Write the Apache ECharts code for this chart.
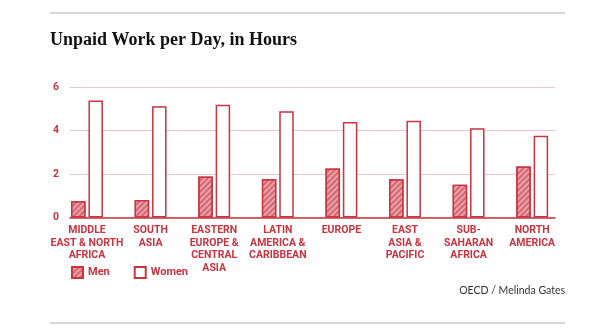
<!DOCTYPE html>
<html>
<head>
<meta charset="utf-8">
<script src="https://cdn.jsdelivr.net/npm/echarts@6/dist/echarts.min.js"></script>
<style>
html,body{margin:0;padding:0;background:#fff;}
#c{width:600px;height:336px;}
</style>
</head>
<body>
<div id="c"></div>
<script>
const categories = ['MIDDLE\nEAST & NORTH\nAFRICA','SOUTH\nASIA','EASTERN\nEUROPE &\nCENTRAL\nASIA','LATIN\nAMERICA &\nCARIBBEAN','EUROPE','EAST\nASIA &\nPACIFIC','SUB-\nSAHARAN\nAFRICA','NORTH\nAMERICA'];
const men =   [0.75, 0.81, 1.89, 1.76, 2.25, 1.76, 1.51, 2.34];
const women = [5.38, 5.12, 5.18, 4.89, 4.39, 4.45, 4.10, 3.76];
const yTicks = [0, 2, 4, 6];

const RED = '#c9343f';
const chart = echarts.init(document.getElementById('c'));
const gTop = 87, gBottom = 118.5;
chart.setOption({
  animation: false,
  backgroundColor: '#fff',
  title: {
    text: 'Unpaid Work per Day, in Hours',
    left: 50, top: 31, padding: 0,
    textStyle: {fontFamily: 'Liberation Serif', fontWeight: 'bold', fontSize: 18, color: '#111'}
  },
  graphic: [
    {type: 'line', shape: {x1: 50, y1: 13, x2: 565, y2: 13}, style: {stroke: '#c8c8c8', lineWidth: 1.5}},
    {type: 'line', shape: {x1: 50, y1: 323, x2: 565, y2: 323}, style: {stroke: '#c8c8c8', lineWidth: 1.5}},
    {type: 'text', right: 35, top: 285, style: {text: 'OECD / Melinda Gates', font: '10.5px Lato', fill: '#333'}}
  ],
  legend: {
    left: 66, top: 261,
    itemWidth: 11, itemHeight: 11, itemGap: 24,
    icon: 'rect',
    textStyle: {color: RED, fontFamily: 'Roboto', fontWeight: 'bold', fontSize: 11, padding: [1,0,0,0]},
    data: ['Men', 'Women']
  },
  grid: [
    {left: 55.2, right: 36, top: gTop, bottom: gBottom},
    {left: 70, right: 45, top: gTop, bottom: gBottom}
  ],
  xAxis: [
    {type: 'category', gridIndex: 0, data: categories,
     axisLine: {show: false}, axisTick: {show: false},
     axisLabel: {interval: 0, margin: 7, color: RED, fontFamily: 'Roboto', fontWeight: 'bold', fontSize: 10.5, lineHeight: 12.5, align: 'center', verticalAlign: 'top'}},
    {type: 'value', gridIndex: 1, min: 0, max: 1,
     axisLine: {show: true, onZero: false, lineStyle: {color: RED, width: 1.5}},
     axisTick: {show: false}, axisLabel: {show: false}, splitLine: {show: false}}
  ],
  yAxis: [
    {type: 'value', gridIndex: 0, min: 0, max: 6, interval: 2, show: false, splitLine: {show: false}},
    {type: 'value', gridIndex: 1, min: 0, max: 6, interval: 2,
     axisLine: {show: false}, axisTick: {show: false},
     axisLabel: {margin: 11, color: RED, fontFamily: 'Roboto', fontWeight: 'bold', fontSize: 10.5,
       formatter: v => yTicks.includes(v) ? String(v) : ''},
     splitLine: {show: true, lineStyle: {color: '#f0c6ca', width: 1.2}}}
  ],
  series: [
    {name: 'Men', type: 'bar', xAxisIndex: 0, yAxisIndex: 0, data: men,
     barWidth: 14.5, barGap: '20%',
     itemStyle: {color: '#e8a3aa', borderColor: RED, borderWidth: 1.3,
       decal: {symbol: 'rect', dashArrayX: [[1, 0]], dashArrayY: [1.5, 2], rotation: -Math.PI / 4, color: 'rgba(201,52,63,0.55)'}}},
    {name: 'Women', type: 'bar', xAxisIndex: 0, yAxisIndex: 0, data: women,
     barWidth: 14.5, barGap: '20%',
     itemStyle: {color: '#fff', borderColor: RED, borderWidth: 1.5}}
  ]
});
</script>
</body>
</html>
